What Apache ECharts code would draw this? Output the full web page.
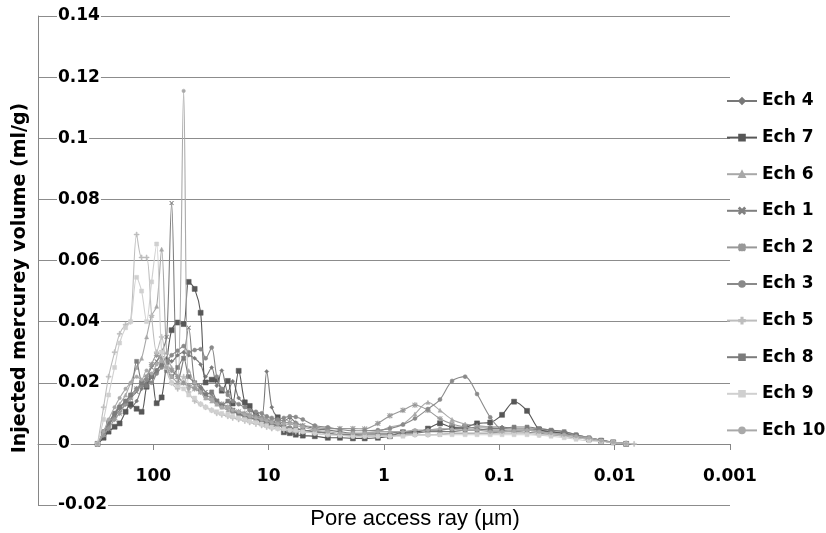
<!DOCTYPE html>
<html>
<head>
<meta charset="utf-8">
<script src="https://cdn.jsdelivr.net/npm/echarts@6/dist/echarts.min.js"></script>
<style>
html,body{margin:0;padding:0;background:#fff;}
#chart{width:826px;height:533px;}
</style>
</head>
<body>
<div id="chart"></div>
<script>
// Pore access radius (µm) of the measurement steps
const radius = [304.4, 270.0, 244.3, 216.7, 196.1, 174.0, 157.4, 139.6, 126.4, 114.4,
  103.5, 93.6, 84.7, 76.6, 69.4, 61.5, 54.6, 49.4, 43.8, 38.9,
  35.2, 31.2, 28.2, 25.5, 22.6, 20.5, 18.2, 16.1, 14.6, 12.9,
  11.5, 10.4, 9.40, 8.34, 7.39, 6.56, 5.82, 5.06, 3.98, 3.07,
  2.41, 1.86, 1.47, 1.13, 0.889, 0.685, 0.539, 0.416, 0.327, 0.257,
  0.198, 0.156, 0.120, 0.0947, 0.0745, 0.0575, 0.0452, 0.0356, 0.0274, 0.0216,
  0.0167, 0.0131, 0.0103, 0.00795, 0.00678];

const ech4 = [0, 0.003, 0.006, 0.009, 0.012, 0.013, 0.012, 0.014, 0.018, 0.02,
  0.022, 0.024, 0.026, 0.028, 0.027, 0.029, 0.03, 0.029, 0.028, 0.026,
  0.022, 0.025, 0.019, 0.024, 0.017, 0.0205, 0.015, 0.013, 0.011, 0.01,
  0.0087, 0.0237, 0.012, 0.0085, 0.0075, 0.0085, 0.007, 0.006, 0.005, 0.0045,
  0.004, 0.0035, 0.0035, 0.0035, 0.0035, 0.004, 0.004, 0.0045, 0.0045, 0.005,
  0.005, 0.0055, 0.0055, 0.0055, 0.005, 0.005, 0.0045, 0.004, 0.0035, 0.003,
  0.002, 0.0012, 0.0005, 0, null];
const ech7 = [0, 0.002, 0.004, 0.0056, 0.0067, 0.0105, 0.013, 0.0115, 0.0105, 0.0187,
  0.0223, 0.0133, 0.0152, 0.027, 0.0372, 0.0397, 0.0392, 0.053, 0.0507, 0.0429,
  0.0201, 0.021, 0.021, 0.0174, 0.0206, 0.0132, 0.0239, 0.0136, 0.0124, 0.0092,
  0.007, 0.0065, 0.0063, 0.0087, 0.0038, 0.0035, 0.003, 0.0027, 0.0025, 0.002,
  0.002, 0.0018, 0.0018, 0.002, 0.0025, 0.0038, 0.0038, 0.005, 0.0067, 0.0054,
  0.0055, 0.0067, 0.007, 0.0095, 0.0138, 0.0108, 0.0047, 0.004, 0.0033, 0.0025,
  0.0015, 0.001, 0.0005, 0, null];
const ech6 = [0, 0.003, 0.006, 0.01, 0.013, 0.016, 0.02, 0.025, 0.028, 0.035,
  0.042, 0.045, 0.0637, 0.03, 0.025, 0.022, 0.02, 0.024, 0.019, 0.017,
  0.015, 0.014, 0.013, 0.012, 0.011, 0.0105, 0.01, 0.0095, 0.009, 0.0085,
  0.008, 0.0075, 0.007, 0.0065, 0.006, 0.0055, 0.005, 0.0045, 0.004, 0.0035,
  0.003, 0.003, 0.0035, 0.004, 0.0055, 0.0065, 0.0098, 0.0136, 0.011, 0.008,
  0.0065, 0.006, 0.0055, 0.005, 0.005, 0.005, 0.005, 0.0045, 0.004, 0.003,
  0.002, 0.0012, 0.0006, 0, null];
const ech1 = [0, 0.003, 0.006, 0.009, 0.011, 0.013, 0.015, 0.017, 0.02, 0.022,
  0.025, 0.027, 0.03, 0.035, 0.0788, 0.02, 0.028, 0.038, 0.02, 0.019,
  0.017, 0.016, 0.014, 0.013, 0.012, 0.011, 0.0095, 0.009, 0.0085, 0.008,
  0.0075, 0.007, 0.0065, 0.006, 0.0055, 0.005, 0.005, 0.0045, 0.004, 0.0035,
  0.003, 0.003, 0.0025, 0.0025, 0.0025, 0.003, 0.003, 0.003, 0.003, 0.0035,
  0.0035, 0.0035, 0.0035, 0.004, 0.004, 0.0045, 0.004, 0.0035, 0.003, 0.0025,
  0.0015, 0.001, 0.0005, 0, null];
const ech2 = [0, 0.003, 0.005, 0.008, 0.01, 0.013, 0.015, 0.018, 0.02, 0.022,
  0.026, 0.029, 0.028, 0.026, 0.024, 0.022, 0.02, 0.019, 0.018, 0.017,
  0.016, 0.015, 0.014, 0.013, 0.012, 0.011, 0.0105, 0.01, 0.0095, 0.009,
  0.0085, 0.008, 0.0075, 0.007, 0.007, 0.007, 0.0065, 0.006, 0.0055, 0.005,
  0.005, 0.005, 0.0049, 0.0067, 0.0092, 0.011, 0.0127, 0.011, 0.0082, 0.0065,
  0.0055, 0.005, 0.0045, 0.0045, 0.0045, 0.0045, 0.004, 0.0035, 0.003, 0.0025,
  0.0015, 0.001, 0.0005, 0, null];
const ech3 = [0, 0.004, 0.007, 0.01, 0.012, 0.014, 0.016, 0.018, 0.019, 0.021,
  0.02, 0.023, 0.025, 0.027, 0.029, 0.0305, 0.032, 0.03, 0.0307, 0.031,
  0.028, 0.0315, 0.022, 0.018, 0.016, 0.014, 0.013, 0.012, 0.011, 0.0105,
  0.01, 0.009, 0.0085, 0.008, 0.0085, 0.009, 0.0088, 0.008, 0.006, 0.0054,
  0.0047, 0.0043, 0.0043, 0.0045, 0.005, 0.0063, 0.0083, 0.0114, 0.0145, 0.0206,
  0.022, 0.0163, 0.0087, 0.0045, 0.004, 0.0038, 0.0035, 0.003, 0.0025, 0.002,
  0.0015, 0.001, 0.0005, 0, null];
const ech5 = [0, 0.012, 0.022, 0.03, 0.036, 0.039, 0.04, 0.0685, 0.061, 0.061,
  0.042, 0.03, 0.035, 0.024, 0.02, 0.018, 0.022, 0.017, 0.014, 0.013,
  0.012, 0.011, 0.01, 0.0095, 0.009, 0.0085, 0.008, 0.0075, 0.007, 0.0065,
  0.006, 0.0055, 0.005, 0.005, 0.0045, 0.0045, 0.004, 0.004, 0.0035, 0.003,
  0.003, 0.0025, 0.0025, 0.0025, 0.0025, 0.003, 0.003, 0.003, 0.0032, 0.0035,
  0.0035, 0.0035, 0.0035, 0.0035, 0.0035, 0.0035, 0.003, 0.003, 0.0025, 0.002,
  0.0015, 0.001, 0.0005, 0.0002, 0];
const ech8 = [0, 0.004, 0.007, 0.01, 0.012, 0.014, 0.016, 0.027, 0.02, 0.019,
  0.022, 0.024, 0.026, 0.024, 0.022, 0.025, 0.028, 0.022, 0.02, 0.018,
  0.016, 0.017, 0.014, 0.0125, 0.014, 0.011, 0.01, 0.009, 0.0085, 0.008,
  0.0075, 0.007, 0.0065, 0.006, 0.0055, 0.005, 0.005, 0.0045, 0.004, 0.0035,
  0.003, 0.003, 0.003, 0.003, 0.003, 0.0035, 0.0035, 0.004, 0.004, 0.004,
  0.0045, 0.0045, 0.005, 0.005, 0.0055, 0.0055, 0.005, 0.0045, 0.004, 0.003,
  0.002, 0.0012, 0.0005, 0, null];
const ech9 = [0, 0.008, 0.016, 0.025, 0.033, 0.038, 0.04, 0.0545, 0.05, 0.04,
  0.053, 0.0654, 0.03, 0.025, 0.02, 0.019, 0.018, 0.016, 0.015, 0.013,
  0.012, 0.011, 0.0105, 0.01, 0.0095, 0.009, 0.0085, 0.008, 0.0075, 0.007,
  0.0065, 0.006, 0.0055, 0.005, 0.005, 0.0045, 0.0045, 0.004, 0.0035, 0.003,
  0.0028, 0.0025, 0.0025, 0.0025, 0.0025, 0.0025, 0.003, 0.003, 0.003, 0.003,
  0.003, 0.003, 0.003, 0.003, 0.003, 0.003, 0.0028, 0.0025, 0.002, 0.0015,
  0.001, 0.0008, 0.0004, 0, null];
const ech10 = [0, 0.004, 0.008, 0.012, 0.015, 0.018, 0.02, 0.022, 0.021, 0.024,
  0.023, 0.026, 0.027, 0.025, 0.022, 0.02, 0.1155, 0.018, 0.02, 0.017,
  0.015, 0.0145, 0.013, 0.012, 0.012, 0.011, 0.0105, 0.0095, 0.009, 0.0085,
  0.008, 0.0075, 0.007, 0.0065, 0.0065, 0.0065, 0.006, 0.0055, 0.0045, 0.004,
  0.0035, 0.0035, 0.0035, 0.004, 0.004, 0.004, 0.0045, 0.0045, 0.005, 0.0048,
  0.0045, 0.0045, 0.004, 0.004, 0.0042, 0.0045, 0.004, 0.0035, 0.003, 0.0025,
  0.002, 0.001, 0.0005, 0, null];

const seriesNames = ['Ech 4', 'Ech 7', 'Ech 6', 'Ech 1', 'Ech 2', 'Ech 3', 'Ech 5', 'Ech 8', 'Ech 9', 'Ech 10'];
const seriesValues = [ech4, ech7, ech6, ech1, ech2, ech3, ech5, ech8, ech9, ech10];
const xTickLabels = ['0.001', '0.01', '0.1', '1', '10', '100', ''];
const yTickLabels = ['-0.02', '0', '0.02', '0.04', '0.06', '0.08', '0.1', '0.12', '0.14'];

const SYM_X = 'path://M0,1L1,0L5,4L9,0L10,1L6,5L10,9L9,10L5,6L1,10L0,9L4,5Z';
const SYM_PLUS = 'path://M4,0H6V4H10V6H6V10H4V6H0V4H4Z';
const SYM_DASH = 'path://M0,4H10V6H0Z';
const SYM_AST = 'path://M4.4,0H5.6V10H4.4Z M0,4.4H10V5.6H0Z M1,0.2L9.8,9L9,9.8L0.2,1Z M9,0.2L9.8,1L1,9.8L0.2,9Z';

const styles = [
  {color: '#787878', symbol: 'diamond', size: 4},
  {color: '#575757', symbol: 'rect', size: 5},
  {color: '#a8a8a8', symbol: 'triangle', size: 4},
  {color: '#808080', symbol: SYM_X, size: 4},
  {color: '#989898', symbol: SYM_AST, size: 5},
  {color: '#8a8a8a', symbol: 'circle', size: 4},
  {color: '#bdbdbd', symbol: SYM_PLUS, size: 5},
  {color: '#7c7c7c', symbol: SYM_DASH, size: 4},
  {color: '#d0d0d0', symbol: SYM_DASH, size: 4},
  {color: '#a9a9a9', symbol: 'circle', size: 3.5}
];

const FONT = 'DejaVu Sans';

const series = seriesNames.map((name, k) => {
  const vals = seriesValues[k];
  const data = [];
  radius.forEach((r, i) => { if (vals[i] !== null && vals[i] !== undefined) data.push([r, vals[i]]); });
  const st = styles[k];
  return {
    name: name,
    type: 'line',
    data: data,
    smooth: 0.3,
    symbol: st.symbol,
    symbolSize: st.size,
    showSymbol: true,
    lineStyle: {color: st.color, width: 1.1},
    itemStyle: {color: st.color, borderColor: st.color, borderWidth: 0.5},
    emphasis: {disabled: true},
    z: 2 + k * 0.01
  };
});

const chart = echarts.init(document.getElementById('chart'), null, {renderer: 'canvas'});
chart.setOption({
  backgroundColor: '#ffffff',
  animation: false,
  grid: {left: 38, right: 96, top: 16, bottom: 28},
  xAxis: {
    type: 'log',
    logBase: 10,
    min: 0.001,
    max: 1000,
    inverse: true,
    position: 'bottom',
    offset: -61,
    axisLine: {show: true, onZero: false, lineStyle: {color: '#868686', width: 1}},
    axisTick: {show: true, length: 6, inside: false, lineStyle: {color: '#868686'}},
    splitLine: {show: false},
    axisLabel: {
      margin: 24,
      fontFamily: FONT, fontWeight: 'bold', fontSize: 17, color: '#000',
      formatter: function (v) {
        const e = Math.round(Math.log10(v)) + 3;
        return xTickLabels[e] !== undefined ? xTickLabels[e] : '';
      }
    }
  },
  yAxis: [{
    type: 'value',
    min: -0.02, max: 0.14, interval: 0.02,
    axisLine: {show: true, onZero: false, lineStyle: {color: '#868686', width: 1}},
    axisTick: {show: false},
    axisLabel: {show: false},
    splitLine: {show: true, lineStyle: {color: '#8c8c8c', width: 1}}
  }, {
    type: 'value',
    position: 'left',
    min: -0.02, max: 0.14, interval: 0.02,
    axisLine: {show: false, onZero: false},
    axisTick: {show: false},
    splitLine: {show: false},
    z: 5,
    axisLabel: {
      inside: true, margin: 19,
      backgroundColor: '#ffffff', padding: [0, 1],
      fontFamily: FONT, fontWeight: 'bold', fontSize: 17, color: '#000',
      formatter: function (v) {
        const i = Math.round((v + 0.02) / 0.02);
        return yTickLabels[i] !== undefined ? yTickLabels[i] : '';
      }
    }
  }],
  legend: {
    orient: 'vertical',
    left: 726,
    top: 92,
    padding: 0,
    itemWidth: 30,
    itemHeight: 7,
    itemGap: 18.6,
    data: seriesNames,
    textStyle: {fontFamily: FONT, fontWeight: 'bold', fontSize: 17, lineHeight: 18, color: '#000'},
    selectedMode: false
  },
  graphic: [{
    type: 'text',
    x: 20, y: 278,
    rotation: Math.PI / 2,
    style: {
      text: 'Injected mercurey volume (ml/g)',
      font: 'bold 19px "DejaVu Sans"',
      fill: '#000',
      align: 'center',
      verticalAlign: 'middle'
    }
  }, {
    type: 'text',
    x: 415, y: 519,
    style: {
      text: 'Pore access ray (µm)',
      font: '22px "Liberation Sans"',
      fill: '#000',
      align: 'center',
      verticalAlign: 'middle'
    }
  }],
  series: series
});
</script>
</body>
</html>
